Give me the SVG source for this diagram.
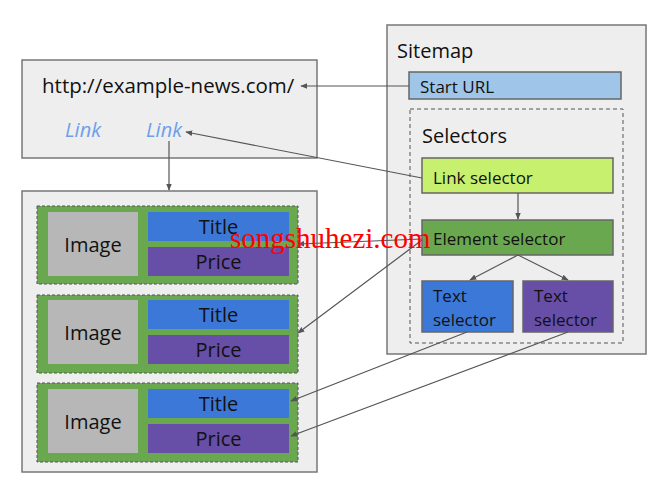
<svg xmlns="http://www.w3.org/2000/svg" width="667" height="498" viewBox="0 0 667 498">
<defs>
<marker id="ah" viewBox="0 0 10 10" refX="9" refY="5" markerWidth="7" markerHeight="7" orient="auto" markerUnits="userSpaceOnUse">
<path d="M0,1 L10,5 L0,9 z" fill="#555"/>
</marker>
</defs>
<style>
text{font-family:"Open Sans","Liberation Sans",sans-serif;fill:#111}
.panel{fill:#eeeeee;stroke:#777;stroke-width:1.5}
.row{fill:#6aa84f;stroke:#555;stroke-width:1;stroke-dasharray:3,2}
.img{fill:#b7b7b7}
.title{fill:#3c78d8}
.price{fill:#674ea7}
.lbl{font-size:20px;text-anchor:middle}
.sel{stroke:#666;stroke-width:1.5}
.conn{stroke:#555;stroke-width:1.2;fill:none;marker-end:url(#ah)}
.link{font-style:italic;fill:#6d9eeb;font-size:20px}
.s{font-size:17px}
</style>
<rect width="667" height="498" fill="#fff"/>
<g id="page">
<rect class="panel" x="22" y="60" width="295" height="98"/>
<text x="42" y="93" font-size="20.5">http://example-news.com/</text>
<text class="link" x="65" y="137">Link</text>
<text class="link" x="146" y="137">Link</text>
</g>
<g id="list">
<rect class="panel" x="22" y="191" width="295" height="281"/>
</g>
<g id="item1">
<rect class="row" x="37" y="206" width="261" height="78"/>
<rect class="img" x="48" y="212" width="90" height="64"/>
<text class="lbl" x="93" y="252">Image</text>
<rect class="title" x="148" y="212" width="141" height="29"/>
<text class="lbl" x="218.5" y="234">Title</text>
<rect class="price" x="148" y="247" width="141" height="29"/>
<text class="lbl" x="218.5" y="269">Price</text>
</g>
<g id="item2">
<rect class="row" x="37" y="295" width="261" height="78"/>
<rect class="img" x="48" y="300" width="90" height="64"/>
<text class="lbl" x="93" y="340">Image</text>
<rect class="title" x="148" y="300" width="141" height="29"/>
<text class="lbl" x="218.5" y="322">Title</text>
<rect class="price" x="148" y="335" width="141" height="29"/>
<text class="lbl" x="218.5" y="357">Price</text>
</g>
<g id="item3">
<rect class="row" x="37" y="383" width="261" height="79"/>
<rect class="img" x="48" y="389" width="90" height="64"/>
<text class="lbl" x="93" y="429">Image</text>
<rect class="title" x="148" y="389" width="141" height="29"/>
<text class="lbl" x="218.5" y="411">Title</text>
<rect class="price" x="148" y="424" width="141" height="29"/>
<text class="lbl" x="218.5" y="446">Price</text>
</g>
<g id="sitemap">
<rect class="panel" x="387" y="25" width="259" height="329"/>
<text x="397" y="58" font-size="20">Sitemap</text>
</g>
<g id="starturl">
<rect class="sel" x="409" y="72" width="212" height="27" fill="#9fc5e8"/>
<text class="s" x="420" y="93">Start URL</text>
</g>
<g id="selectors">
<rect x="410" y="109" width="213" height="234" fill="none" stroke="#555" stroke-width="1" stroke-dasharray="4,3"/>
<text x="422" y="143" font-size="20">Selectors</text>
</g>
<g id="linksel">
<rect class="sel" x="422" y="158" width="191" height="35" fill="#c6f06e"/>
<text class="s" x="433" y="184">Link selector</text>
</g>
<g id="elemsel">
<rect class="sel" x="422" y="220" width="191" height="35" fill="#6aa84f"/>
<text class="s" x="433" y="245">Element selector</text>
</g>
<g id="textsel1">
<rect class="sel" x="422" y="281" width="91" height="51" fill="#3c78d8"/>
<text class="s" x="433" y="302">Text</text>
<text class="s" x="433" y="326">selector</text>
</g>
<g id="textsel2">
<rect class="sel" x="523" y="281" width="90" height="51" fill="#674ea7"/>
<text class="s" x="534" y="302">Text</text>
<text class="s" x="534" y="326">selector</text>
</g>
<g id="connectors">
<line class="conn" x1="409" y1="86" x2="301" y2="86"/>
<line class="conn" x1="422" y1="178" x2="186" y2="132"/>
<line class="conn" x1="169" y1="141" x2="169" y2="190"/>
<line class="conn" x1="518" y1="193" x2="518" y2="219"/>
<line class="conn" x1="518" y1="255" x2="470" y2="280"/>
<line class="conn" x1="518" y1="255" x2="568" y2="280"/>
<line class="conn" x1="422" y1="239" x2="298" y2="244"/>
<line class="conn" x1="422" y1="240" x2="298" y2="333"/>
<line class="conn" x1="467" y1="332" x2="291" y2="401"/>
<line class="conn" x1="568" y1="332" x2="291" y2="436"/>
</g>
<text x="230" y="248" font-family="'Liberation Serif',serif" font-size="29" fill="#ff0000" style="fill:#ff0000;font-family:'Liberation Serif',serif">songshuhezi.com</text>
</svg>
